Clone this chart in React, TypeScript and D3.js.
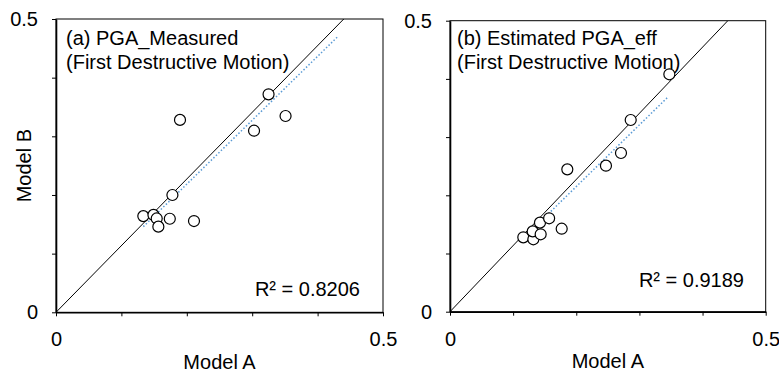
import React, { useEffect, useRef } from 'react';
import * as d3 from 'd3';

// Panel (a): PGA_Measured
const measuredA = [0.1335, 0.149, 0.154, 0.1565, 0.174, 0.178, 0.1896, 0.211, 0.3028, 0.325, 0.351];
const measuredB = [0.164, 0.166, 0.160, 0.146, 0.1595, 0.200, 0.328, 0.1556, 0.3096, 0.3716, 0.3346];
const measuredTrend = [[0.1335, 0.146], [0.4307, 0.4698]];

// Panel (b): Estimated PGA_eff
const estimatedA = [0.1161, 0.132, 0.131, 0.1436, 0.1425, 0.157, 0.1769, 0.1858, 0.247, 0.2708, 0.2862, 0.3474];
const estimatedB = [0.1278, 0.1244, 0.138, 0.1330, 0.153, 0.1605, 0.1426, 0.2446, 0.2509, 0.2727, 0.3294, 0.4079];
const estimatedTrend = [[0.1161, 0.1261], [0.3457, 0.3694]];

const refLine = [[0, 0], [0.44, 0.5]];
const tickValues = [0, 0.1, 0.2, 0.3, 0.4, 0.5];
const labelledTicks = [0, 0.5];

const panels = [
  {
    title: ['(a) PGA_Measured', '(First Destructive Motion)'],
    r2: 'R² = 0.8206',
    xs: measuredA, ys: measuredB, trend: measuredTrend,
    left: 56, right: 383, top: 19, bottom: 312.3,
    titleDx: 10, titleDy: 25.5, r2Dx: 304, r2Dy: 277, yTitle: 'Model B', xTitleY: 369,
  },
  {
    title: ['(b) Estimated PGA_eff', '(First Destructive Motion)'],
    r2: 'R² = 0.9189',
    xs: estimatedA, ys: estimatedB, trend: estimatedTrend,
    left: 450, right: 765.7, top: 20.7, bottom: 311.7,
    titleDx: 7, titleDy: 24.3, r2Dx: 294, r2Dy: 266.6, yTitle: '', xTitleY: 368,
  },
];

const FONT = '"Liberation Sans", Arial, sans-serif';

export default function App() {
  const chartRef = useRef<SVGSVGElement>(null);

  useEffect(() => {
    if (!chartRef.current) return;
    const svg = d3.select(chartRef.current);
    svg.selectAll('*').remove();

    panels.forEach((p, i) => {
      const x = d3.scaleLinear().domain([0, 0.5]).range([p.left, p.right]);
      const y = d3.scaleLinear().domain([0, 0.5]).range([p.bottom, p.top]);
      const g = svg.append('g');

      const clipId = `clip-${i}`;
      g.append('clipPath').attr('id', clipId)
        .append('rect')
        .attr('x', p.left).attr('y', p.top)
        .attr('width', p.right - p.left).attr('height', p.bottom - p.top);

      // frame
      g.append('rect')
        .attr('x', p.left).attr('y', p.top)
        .attr('width', p.right - p.left).attr('height', p.bottom - p.top)
        .attr('fill', 'none').attr('stroke', '#000').attr('stroke-width', 1);

      const fmt = (d: any) => (labelledTicks.includes(d) ? (d === 0 ? '0' : '0.5') : '');

      const yAxis = g.append('g')
        .attr('transform', `translate(${p.left},0)`)
        .call(d3.axisLeft(y).tickValues(tickValues).tickSize(4).tickSizeOuter(0).tickPadding(14).tickFormat(fmt));
      const xAxis = g.append('g')
        .attr('transform', `translate(0,${p.bottom})`)
        .call(d3.axisBottom(x).tickValues(tickValues).tickSize(4).tickSizeOuter(0).tickPadding(16).tickFormat(fmt));

      [yAxis, xAxis].forEach(a => {
        a.select('.domain').attr('stroke-width', 1.6);
        a.selectAll('line').attr('stroke-width', 1);
        a.selectAll('text')
          .style('font-family', FONT)
          .style('font-size', '20px')
          .style('fill', '#000');
      });

      const line = d3.line<number[]>().x(d => x(d[0])).y(d => y(d[1]));

      g.append('path')
        .attr('d', line(refLine) || '')
        .attr('clip-path', `url(#${clipId})`)
        .attr('fill', 'none').attr('stroke', '#000').attr('stroke-width', 1);

      g.append('path')
        .attr('d', line(p.trend) || '')
        .attr('fill', 'none').attr('stroke', '#5B9BD5')
        .attr('stroke-width', 1.5).attr('stroke-dasharray', '1.5,2');

      g.selectAll('.pt')
        .data(p.xs.map((v, j) => [v, p.ys[j]]))
        .enter()
        .append('circle')
        .attr('cx', d => x(d[0]))
        .attr('cy', d => y(d[1]))
        .attr('r', 5.5)
        .attr('fill', '#fff')
        .attr('stroke', '#000')
        .attr('stroke-width', 1.2);

      p.title.forEach((t, k) => {
        g.append('text')
          .attr('x', p.left + p.titleDx)
          .attr('y', p.top + p.titleDy + k * 24)
          .style('font-family', FONT).style('font-size', '20px')
          .text(t);
      });

      g.append('text')
        .attr('x', p.left + p.r2Dx)
        .attr('y', p.top + p.r2Dy)
        .attr('text-anchor', 'end')
        .style('font-family', FONT).style('font-size', '20px')
        .text(p.r2);

      g.append('text')
        .attr('x', (p.left + p.right) / 2)
        .attr('y', p.xTitleY)
        .attr('text-anchor', 'middle')
        .style('font-family', FONT).style('font-size', '20px')
        .text('Model A');

      if (p.yTitle) {
        g.append('text')
          .attr('transform', `translate(31,${(p.top + p.bottom) / 2}) rotate(-90)`)
          .attr('text-anchor', 'middle')
          .style('font-family', FONT).style('font-size', '20px')
          .text(p.yTitle);
      }
    });
  }, []);

  return (
    <svg
      ref={chartRef}
      width={779}
      height={372}
      style={{ position: 'absolute', left: 0, top: 0, background: '#fff' }}
    />
  );
}
